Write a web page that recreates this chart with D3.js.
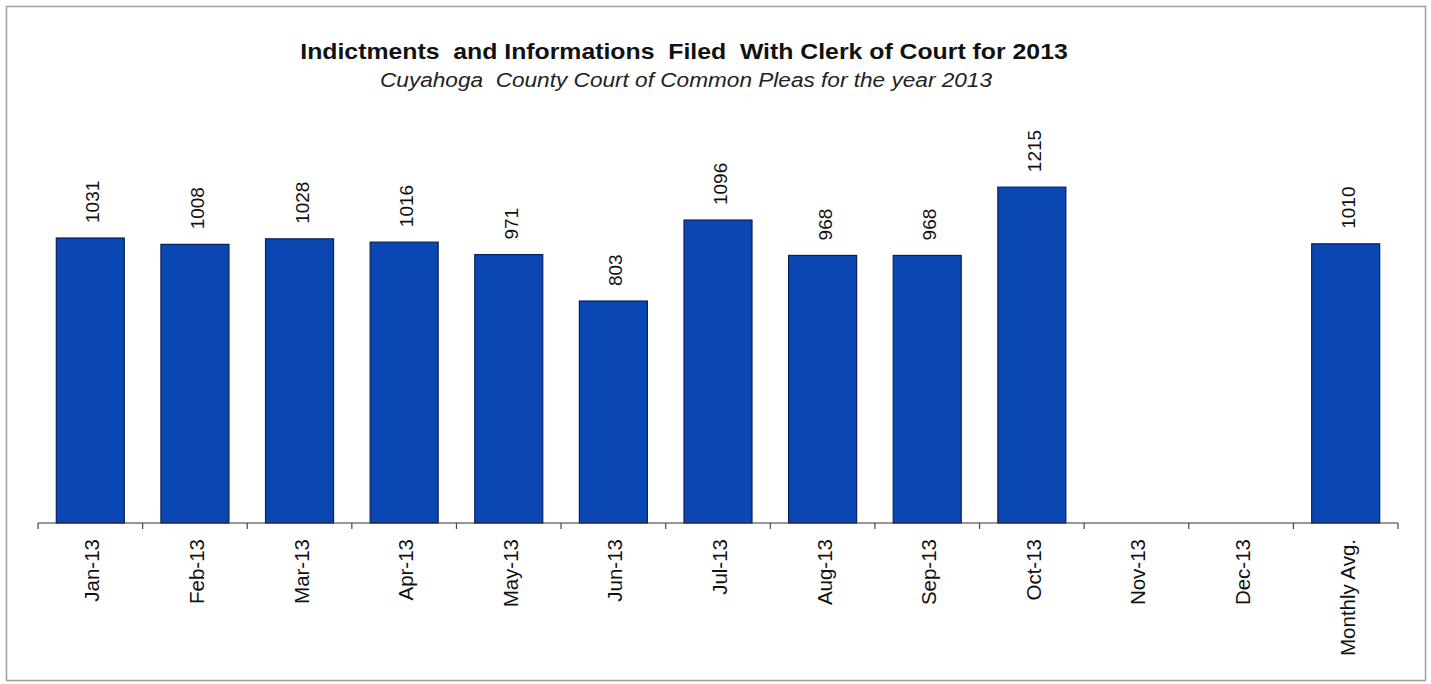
<!DOCTYPE html>
<html>
<head>
<meta charset="utf-8">
<script src="https://cdn.jsdelivr.net/npm/d3@7"></script>
<style>
  body { margin: 0; background: #fff; }
  text { font-family: "Liberation Sans", Arial, sans-serif; fill: #111; white-space: pre; }
</style>
</head>
<body>
<script>
// Data
const categories = ["Jan-13", "Feb-13", "Mar-13", "Apr-13", "May-13", "Jun-13", "Jul-13",
  "Aug-13", "Sep-13", "Oct-13", "Nov-13", "Dec-13", "Monthly Avg."];
const filings = [1031, 1008, 1028, 1016, 971, 803, 1096, 968, 968, 1215, null, null, 1010];
const titleText = "Indictments  and Informations  Filed  With Clerk of Court for 2013";
const subtitleText = "Cuyahoga  County Court of Common Pleas for the year 2013";

// Canvas setup
const canvasWidth = 1431;
const canvasHeight = 684;

const svg = d3.select('body')
    .append('svg')
    .attr('width', canvasWidth)
    .attr('height', canvasHeight);

// outer frame
svg.append('rect')
    .attr('x', 6.5).attr('y', 6.5)
    .attr('width', 1419).attr('height', 674)
    .attr('fill', 'none')
    .attr('stroke', '#a0a0a0')
    .attr('stroke-width', 1.5);

// titles (the scanned original is a bit stretched sideways)
function stretchedText(str, cx, y, width, size, style) {
    let t = svg.append('text')
        .attr('text-anchor', 'middle')
        .style('font-size', size + 'px')
        .text(str);
    style(t);
    let w = t.node().getComputedTextLength();
    t.attr('transform', `translate(${cx},${y}) scale(${width / w},1)`);
    return t;
}

stretchedText(titleText, 684, 59, 768, 22, t => t.style('font-weight', 'bold'));
stretchedText(subtitleText, 686, 87, 612, 19.5, t => t.style('font-style', 'italic').style('fill', '#222'));

let margins = { left: 38, right: 33, top: 136, bottom: 161 };
let plotWidth = canvasWidth - margins.left - margins.right;
let baseY = canvasHeight - margins.bottom;

let xScale = d3.scaleBand()
    .domain(categories)
    .range([margins.left, margins.left + plotWidth])
    .paddingInner(0.35)
    .paddingOuter(0.175);

let yScale = d3.scaleLinear()
    .domain([0, 1400])
    .range([baseY, margins.top]);

let plotGroup = svg.append('g').classed('plot', true);

let data = categories.map((c, i) => ({ cat: c, v: filings[i] }));

// Bars
plotGroup.selectAll('rect.bar')
    .data(data.filter(d => d.v != null))
    .enter().append('rect')
    .attr('class', 'bar')
    .attr('x', d => xScale(d.cat))
    .attr('y', d => yScale(d.v))
    .attr('width', xScale.bandwidth())
    .attr('height', d => baseY - yScale(d.v))
    .attr('fill', '#0b47b3')
    .attr('stroke', '#0a1f5c')
    .attr('stroke-width', 1.2);

// Value labels (rotated)
plotGroup.selectAll('text.val')
    .data(data.filter(d => d.v != null))
    .enter().append('text')
    .attr('class', 'val')
    .attr('transform', d => `translate(${xScale(d.cat) + xScale.bandwidth() / 2 + 9},${yScale(d.v) - 15}) rotate(-90)`)
    .style('font-size', '19px')
    .text(d => d.v);

// Axis: ticks at category boundaries
let step = xScale.step();
let boundaries = d3.range(categories.length + 1).map(i => margins.left + i * step);

plotGroup.append('line')
    .attr('x1', margins.left).attr('x2', margins.left + plotWidth)
    .attr('y1', baseY).attr('y2', baseY)
    .attr('stroke', '#333').attr('stroke-width', 1.2);

plotGroup.selectAll('line.tick')
    .data(boundaries)
    .enter().append('line')
    .attr('class', 'tick')
    .attr('x1', d => d).attr('x2', d => d)
    .attr('y1', baseY).attr('y2', baseY + 6)
    .attr('stroke', '#444').attr('stroke-width', 1.2);

plotGroup.selectAll('text.cat')
    .data(categories)
    .enter().append('text')
    .attr('class', 'cat')
    .attr('transform', d => `translate(${xScale(d) + xScale.bandwidth() / 2 + 9},${baseY + 16}) rotate(-90)`)
    .attr('text-anchor', 'end')
    .style('font-size', '20.5px')
    .text(d => d);
</script>
</body>
</html>
